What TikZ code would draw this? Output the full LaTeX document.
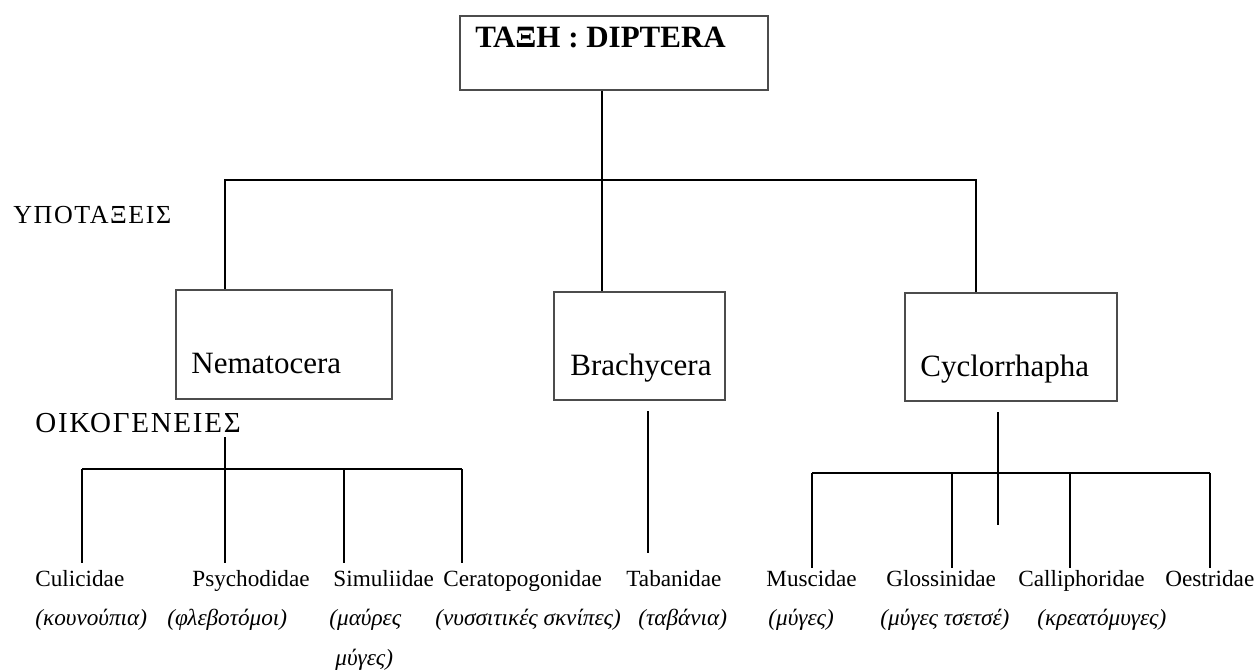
\documentclass[tikz,border=0pt]{standalone}
\usepackage{fontspec}
\setmainfont{Liberation Serif}
\usetikzlibrary{positioning}
\newcommand{\boxfont}{\fontsize{15.5}{18}\selectfont}
\newcommand{\famfont}{\fontsize{11.6}{14}\selectfont}
\newcommand{\rankfont}[1]{\fontsize{#1}{17}\selectfont\addfontfeatures{LetterSpace=6}}
\tikzset{taxbox/.style={draw=black!70, line width=0.7pt, inner sep=0pt},
  lbl/.style={anchor=base west, inner sep=0pt},
  link/.style={line width=0.65pt},
  famlink/.style={line width=1pt}}

\begin{document}
\begin{tikzpicture}[x=0.5pt, y=-0.5pt]
\useasboundingbox (0,0) rectangle (1258,671);

%order and suborders
\node[taxbox, minimum width=154pt, minimum height=37pt] (order) at (614,53) {};
\node[taxbox, minimum width=108pt, minimum height=54.5pt] (nem) at (284,344.5) {};
\node[taxbox, minimum width=85.5pt, minimum height=54pt] (bra) at (639.5,346) {};
\node[taxbox, minimum width=106pt, minimum height=54pt] (cyc) at (1011,347) {};
\node[lbl, font=\boxfont\bfseries] (ordertxt) at (475,47) {ΤΑΞΗ : DIPTERA};
\node[lbl, font=\boxfont] (nemtxt) at (191,373) {Nematocera};
\node[lbl, font=\boxfont] (bratxt) at (570,375) {Brachycera};
\node[lbl, font=\boxfont] (cyctxt) at (920,376) {Cyclorrhapha};
\node[lbl, font=\rankfont{13}] (subord) at (13,223) {ΥΠΟΤΑΞΕΙΣ};
\node[lbl, font=\rankfont{14.5}] (famil) at (35,432) {ΟΙΚΟΓΕΝΕΙΕΣ};

%families
\foreach \n/\x/\t in {culi/35/Culicidae, psy/192/Psychodidae, simu/333/Simuliidae,
  cera/443/Ceratopogonidae, taba/626/Tabanidae, musc/766/Muscidae,
  glos/886/Glossinidae, calli/1018/Calliphoridae, oest/1165/Oestridae}
  {\node[lbl, font=\famfont] (\n) at (\x,586) {\t};}
\foreach \n/\x/\t in {culi/35/κουνούπια, psy/167/φλεβοτόμοι, cera/435/νυσσιτικές σκνίπες,
  taba/638/ταβάνια, musc/768/μύγες, glos/880/μύγες τσετσέ, calli/1037/κρεατόμυγες}
  {\node[lbl, font=\famfont\itshape] (\n gr) at (\x,625) {(\t)};}
\node[lbl, font=\famfont\itshape] (simugr) at (329,625) {(μαύρες};
\node[lbl, font=\famfont\itshape] (simugrb) at (335,665) {μύγες)};

%connectors
\coordinate (xN) at (225,0);
\coordinate (xB) at (602,0);
\coordinate (xC) at (976,0);
\coordinate (bar) at (0,180);
\draw[link] (order.south -| xB) -- (bra.north -| xB);
\draw[link] (nem.north -| xN) -- (xN |- bar) -- (xC |- bar) -- (cyc.north -| xC);

\coordinate (barN) at (0,469);
\coordinate (barC) at (0,473);
\coordinate (feet) at (0,563);
\foreach \c/\x in {culi/82, psy/225, simu/344, cera/462, musc/812, glos/952, calli/1070, oest/1210}
  {\coordinate (d\c) at (\x,0);}
\draw[famlink] (dpsy |- 0,437) -- (dpsy |- feet);
\draw[famlink] (dculi |- barN) -- (dcera |- barN);
\foreach \c in {culi,simu,cera} {\draw[famlink] (d\c |- barN) -- (d\c |- feet);}

\coordinate (tabtop) at (648,411);
\coordinate (tabfoot) at (648,553);
\draw[famlink] (tabtop) -- (tabfoot);

\coordinate (cyctop) at (998,412);
\coordinate (cycfoot) at (998,525);
\draw[famlink] (cyctop) -- (cycfoot);
\draw[famlink] (dmusc |- barC) -- (doest |- barC);
\foreach \c in {musc,glos,calli,oest} {\draw[famlink] (d\c |- barC) -- (d\c |- 0,568);}
\end{tikzpicture}
\end{document}
